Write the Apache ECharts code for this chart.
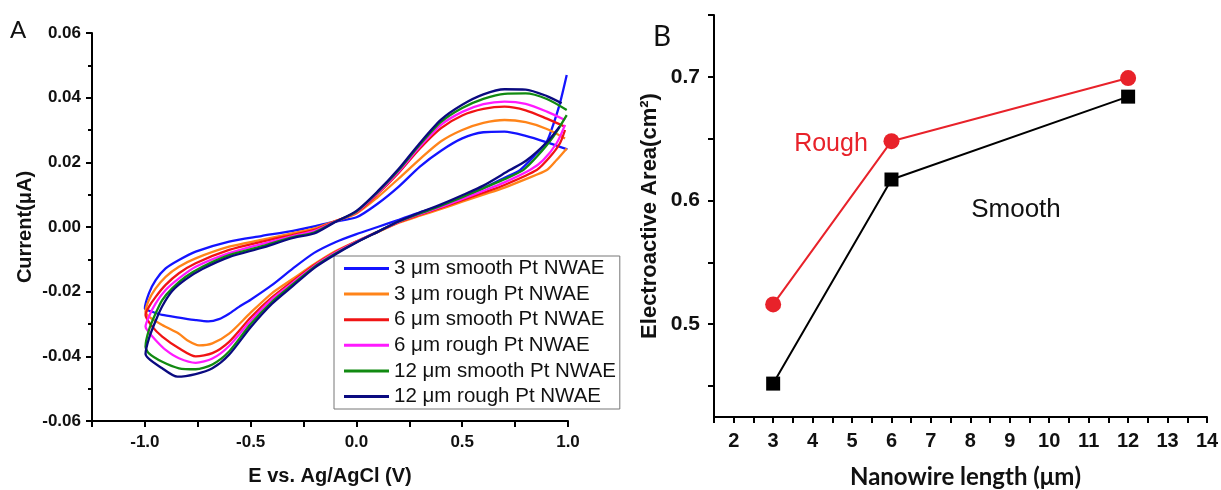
<!DOCTYPE html>
<html>
<head>
<meta charset="utf-8">
<script src="https://cdn.jsdelivr.net/npm/echarts@6/dist/echarts.min.js"></script>
<style>
html,body{margin:0;padding:0;background:#fff;}
#main{width:1221px;height:490px;}
</style>
</head>
<body>
<div id="main"></div>
<script>
// ---------- Panel A : cyclic voltammograms [E (V), current] ----------
const cvNames = ['3 μm smooth Pt NWAE','3 μm rough Pt NWAE','6 μm smooth Pt NWAE','6 μm rough Pt NWAE','12 μm smooth Pt NWAE','12 μm rough Pt NWAE'];

const cv3Smooth = [
 [0.994,0.047],[0.962,0.0383],[0.93,0.0316],[0.9,0.0264],[0.852,0.0228],[0.773,0.0176],[0.7,0.0152],[0.6,0.0120],[0.5,0.0092],[0.4,0.0066],[0.3,0.0045],[0.2,0.0022],[0.1,0.0000],[0.0,-0.0022],[-0.1,-0.0047],[-0.2,-0.0080],[-0.3,-0.0128],[-0.4,-0.0180],[-0.5,-0.0225],[-0.555,-0.0247],[-0.602,-0.0268],[-0.65,-0.0285],[-0.7,-0.0292],[-0.76,-0.0288],[-0.839,-0.0280],[-0.918,-0.0272],[-0.965,-0.0262],[-1.0,-0.0252],
 [-0.981,-0.0205],[-0.949,-0.0164],[-0.902,-0.0128],[-0.839,-0.0102],[-0.76,-0.0076],[-0.602,-0.0045],[-0.45,-0.0028],[-0.3,-0.0012],[-0.2,0.0002],[-0.11,0.0016],[0.0,0.0030],[0.1,0.0072],[0.2,0.0125],[0.3,0.0187],[0.4,0.0236],[0.5,0.0274],[0.6,0.0293],[0.7,0.0295],[0.8,0.0282],[0.9,0.0262],[0.997,0.0240]
];
const cv3Rough = [
 [0.994,0.0243],[0.946,0.0207],[0.9,0.0176],[0.8,0.0148],[0.7,0.0122],[0.6,0.0100],[0.5,0.0078],[0.4,0.0056],[0.3,0.0035],[0.2,0.0013],[0.1,-0.0016],[0.0,-0.0044],[-0.1,-0.0075],[-0.2,-0.0115],[-0.3,-0.0160],[-0.4,-0.0205],[-0.5,-0.0265],[-0.602,-0.0330],[-0.681,-0.0360],[-0.744,-0.0366],[-0.8,-0.0350],[-0.839,-0.0330],[-0.918,-0.0303],[-0.981,-0.0277],[-0.997,-0.0262],
 [-0.981,-0.0226],[-0.949,-0.0190],[-0.902,-0.0154],[-0.839,-0.0123],[-0.76,-0.0097],[-0.602,-0.0061],[-0.45,-0.0040],[-0.3,-0.0019],[-0.2,-0.0005],[-0.11,0.0016],[0.0,0.0042],[0.1,0.0092],[0.2,0.0150],[0.3,0.0210],[0.4,0.0265],[0.5,0.0300],[0.6,0.0322],[0.7,0.0331],[0.8,0.0324],[0.9,0.0303],[0.986,0.0274]
];
const cv6Smooth = [
 [0.986,0.0300],[0.962,0.0259],[0.915,0.0217],[0.852,0.0176],[0.7,0.0130],[0.6,0.0106],[0.5,0.0083],[0.4,0.0060],[0.3,0.0038],[0.2,0.0015],[0.1,-0.0015],[0.0,-0.0045],[-0.1,-0.0078],[-0.2,-0.0118],[-0.3,-0.0167],[-0.4,-0.0218],[-0.5,-0.0280],[-0.602,-0.0355],[-0.681,-0.0390],[-0.76,-0.0400],[-0.839,-0.0375],[-0.918,-0.0339],[-0.965,-0.0308],[-0.997,-0.0272],
 [-0.981,-0.0247],[-0.949,-0.0216],[-0.902,-0.0179],[-0.839,-0.0143],[-0.76,-0.0112],[-0.602,-0.0071],[-0.45,-0.0046],[-0.3,-0.0024],[-0.2,-0.0009],[-0.11,0.0015],[0.0,0.0045],[0.1,0.0102],[0.2,0.0168],[0.3,0.0243],[0.4,0.0306],[0.5,0.0345],[0.6,0.0365],[0.7,0.0372],[0.8,0.0361],[0.9,0.0335],[0.986,0.0310]
];
const cv6Rough = [
 [0.986,0.0316],[0.946,0.0259],[0.883,0.0207],[0.82,0.0176],[0.7,0.0138],[0.6,0.0112],[0.5,0.0087],[0.4,0.0062],[0.3,0.0040],[0.2,0.0016],[0.1,-0.0015],[0.0,-0.0046],[-0.1,-0.0080],[-0.2,-0.0121],[-0.3,-0.0172],[-0.4,-0.0224],[-0.5,-0.0290],[-0.602,-0.0368],[-0.681,-0.0407],[-0.76,-0.0420],[-0.839,-0.0406],[-0.902,-0.0380],[-0.949,-0.0350],[-0.989,-0.0319],[-0.997,-0.0308],
 [-0.981,-0.0277],[-0.949,-0.0236],[-0.902,-0.0195],[-0.839,-0.0159],[-0.76,-0.0123],[-0.602,-0.0081],[-0.45,-0.0053],[-0.3,-0.0028],[-0.2,-0.0013],[-0.11,0.0014],[0.0,0.0046],[0.1,0.0105],[0.2,0.0172],[0.3,0.0249],[0.4,0.0316],[0.5,0.0356],[0.6,0.0380],[0.7,0.0388],[0.8,0.0381],[0.9,0.0357],[0.986,0.0331]
];
const cv12Smooth = [
 [0.994,0.0346],[0.93,0.0279],[0.852,0.0217],[0.788,0.0176],[0.7,0.0148],[0.6,0.0120],[0.5,0.0092],[0.4,0.0066],[0.3,0.0042],[0.2,0.0017],[0.1,-0.0015],[0.0,-0.0047],[-0.1,-0.0083],[-0.2,-0.0124],[-0.3,-0.0177],[-0.4,-0.0232],[-0.5,-0.0300],[-0.602,-0.0385],[-0.681,-0.0425],[-0.76,-0.0440],[-0.839,-0.0437],[-0.918,-0.0417],[-0.981,-0.0391],[-0.997,-0.0370],
 [-0.981,-0.0319],[-0.949,-0.0267],[-0.918,-0.0226],[-0.871,-0.0190],[-0.807,-0.0154],[-0.728,-0.0123],[-0.602,-0.0087],[-0.45,-0.0060],[-0.3,-0.0031],[-0.2,-0.0017],[-0.11,0.0013],[0.0,0.0048],[0.1,0.0108],[0.2,0.0176],[0.3,0.0255],[0.4,0.0325],[0.5,0.0368],[0.6,0.0396],[0.7,0.0412],[0.8,0.0413],[0.9,0.0396],[0.994,0.0362]
];
const cv12Rough = [
 [0.96,0.0310],[0.9,0.0262],[0.8,0.0204],[0.725,0.0176],[0.6,0.0128],[0.5,0.0098],[0.4,0.0070],[0.3,0.0045],[0.2,0.0018],[0.1,-0.0015],[0.0,-0.0048],[-0.1,-0.0085],[-0.2,-0.0127],[-0.3,-0.0182],[-0.4,-0.0238],[-0.5,-0.0310],[-0.602,-0.0395],[-0.681,-0.0437],[-0.76,-0.0455],[-0.846,-0.0463],[-0.918,-0.0437],[-0.997,-0.0393],
 [-0.981,-0.0345],[-0.949,-0.0290],[-0.918,-0.0245],[-0.871,-0.0198],[-0.807,-0.0162],[-0.728,-0.0130],[-0.602,-0.0093],[-0.45,-0.0065],[-0.3,-0.0034],[-0.2,-0.0020],[-0.11,0.0012],[0.0,0.0050],[0.1,0.0110],[0.2,0.0180],[0.3,0.0260],[0.4,0.0332],[0.5,0.0378],[0.6,0.0410],[0.7,0.0426],[0.8,0.0425],[0.9,0.0405],[0.97,0.0383]
];

// ---------- Panel B : electroactive area vs nanowire length ----------
const lengths = [3, 6, 12];
const roughArea = [0.516, 0.648, 0.699];
const smoothArea = [0.452, 0.617, 0.684];

const cvData = [cv3Smooth, cv3Rough, cv6Smooth, cv6Rough, cv12Smooth, cv12Rough];
const cvColors = ['#1414ff', '#ff8419', '#f01414', '#ff1aff', '#118a11', '#0a0a80'];

const F = 'Liberation Sans, Arial, sans-serif';
const axisBase = {
  axisLine: { show: true, onZero: false, lineStyle: { color: '#000', width: 2 } },
  axisTick: { show: true, inside: false, length: 6, lineStyle: { color: '#000', width: 2 } },
  splitLine: { show: false }
};

const chart = echarts.init(document.getElementById('main'), null, { renderer: 'canvas' });

const series = cvData.map((d, i) => ({
  name: cvNames[i], type: 'line', xAxisIndex: 0, yAxisIndex: 0,
  data: d, symbol: 'none', showSymbol: false, smooth: 0.25,
  lineStyle: { color: cvColors[i], width: 2.3 }, itemStyle: { color: cvColors[i] },
  animation: false, z: 2 + i
}));
series.push({
  name: 'Smooth', type: 'line', xAxisIndex: 1, yAxisIndex: 1,
  data: lengths.map((x, i) => [x, smoothArea[i]]),
  symbol: 'rect', symbolSize: 14,
  lineStyle: { color: '#000', width: 2 }, itemStyle: { color: '#000' }, animation: false
});
series.push({
  name: 'Rough', type: 'line', xAxisIndex: 1, yAxisIndex: 1,
  data: lengths.map((x, i) => [x, roughArea[i]]),
  symbol: 'circle', symbolSize: 16,
  lineStyle: { color: '#e8222a', width: 2 }, itemStyle: { color: '#e8222a' }, animation: false
});

const option = {
  animation: false,
  backgroundColor: '#fff',
  grid: [
    { left: 92, top: 33, right: 653, bottom: 69, containLabel: false, outerBoundsMode: 'none' },
    { left: 714, top: 15, right: 14, bottom: 73, containLabel: false, outerBoundsMode: 'none' }
  ],
  legend: {
    data: cvNames, orient: 'vertical', left: 334, top: 256,
    icon: 'rect', itemWidth: 45, itemHeight: 3, itemGap: 4.6,
    padding: [2, 4, 2, 10],
    borderColor: '#777', borderWidth: 1, backgroundColor: '#fff',
    textStyle: { fontFamily: F, fontSize: 20.5, color: '#111' },
    selectedMode: false
  },
  xAxis: [
    Object.assign({}, axisBase, {
      gridIndex: 0, type: 'value', min: -1.25, max: 1.0, interval: 0.25,
      name: 'E vs. Ag/AgCl (V)', nameLocation: 'middle', nameGap: 45,
      nameTextStyle: { fontFamily: F, fontSize: 20, fontWeight: 'bold', color: '#111' },
      axisLabel: {
        fontFamily: F, fontSize: 17, fontWeight: 'bold', color: '#111', margin: 13,
        formatter: v => Math.abs(v * 2 - Math.round(v * 2)) < 1e-6 ? (Math.abs(v) < 1e-9 ? '0.0' : v.toFixed(1)) : ''
      }
    }),
    Object.assign({}, axisBase, {
      gridIndex: 1, type: 'value', min: 1.5, max: 14, interval: 0.5,
      name: 'Nanowire length (μm)', nameLocation: 'middle', nameGap: 48,
      nameTextStyle: { fontFamily: 'Lato, Open Sans, sans-serif', fontSize: 24, fontWeight: 'bold', color: '#111', padding: [0, 0, 0, 10] },
      axisLabel: {
        fontFamily: F, fontSize: 20, fontWeight: 'bold', color: '#111', margin: 14,
        formatter: v => Math.abs(v - Math.round(v)) < 1e-6 ? String(Math.round(v)) : ''
      }
    })
  ],
  yAxis: [
    Object.assign({}, axisBase, {
      gridIndex: 0, type: 'value', min: -0.06, max: 0.06, interval: 0.02,
      minorTick: { show: true, splitNumber: 2, length: 4, lineStyle: { color: '#000', width: 2 } },
      name: 'Current(μA)', nameLocation: 'middle', nameGap: 57, nameRotate: 90,
      nameTextStyle: { fontFamily: F, fontSize: 20, fontWeight: 'bold', color: '#111' },
      axisLabel: {
        fontFamily: F, fontSize: 17, fontWeight: 'bold', color: '#111', margin: 11,
        showMinLabel: true, showMaxLabel: true,
        formatter: v => Math.abs(v) < 1e-9 ? '0.00' : v.toFixed(2)
      }
    }),
    Object.assign({}, axisBase, {
      gridIndex: 1, type: 'value', min: 0.425, max: 0.75,
      name: 'Electroactive Area(cm²)', nameLocation: 'middle', nameGap: 53, nameRotate: 90,
      nameTextStyle: { fontFamily: F, fontSize: 22, fontWeight: 'bold', color: '#111' },
      axisTick: { show: true, inside: false, length: 6, lineStyle: { color: '#000', width: 2 },
        customValues: [0.45, 0.5, 0.55, 0.6, 0.65, 0.7, 0.75] },
      axisLabel: {
        fontFamily: F, fontSize: 21, fontWeight: 'bold', color: '#111', margin: 14,
        customValues: [0.5, 0.6, 0.7],
        formatter: v => v.toFixed(1)
      }
    })
  ],
  graphic: [
    { type: 'text', x: 18, y: 30, style: { text: 'A', font: '24px Lato, Open Sans, sans-serif', fill: '#111', textAlign: 'center', textVerticalAlign: 'middle' } },
    { type: 'text', x: 662, y: 37, style: { text: 'B', font: '28px Lato, Open Sans, sans-serif', fill: '#111', textAlign: 'center', textVerticalAlign: 'middle' } },
    { type: 'text', x: 831, y: 144, style: { text: 'Rough', font: '25px Liberation Sans, Arial, sans-serif', fill: '#e8222a', textAlign: 'center', textVerticalAlign: 'middle' } },
    { type: 'text', x: 1016, y: 210, style: { text: 'Smooth', font: '26px Liberation Sans, Arial, sans-serif', fill: '#111', textAlign: 'center', textVerticalAlign: 'middle' } }
  ],
  series: series
};
chart.setOption(option);
</script>
</body>
</html>
